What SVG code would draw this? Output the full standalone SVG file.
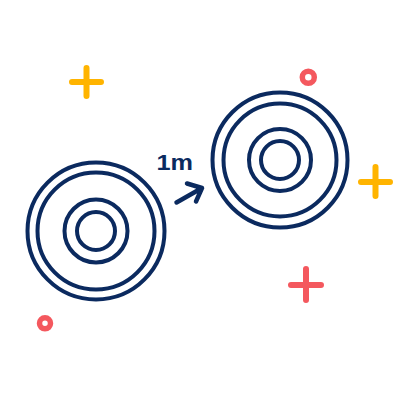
<svg xmlns="http://www.w3.org/2000/svg" width="400" height="400" viewBox="0 0 400 400">
<style>
.ring{fill:none;stroke:#0b2a5f;stroke-width:4}
.plusY{stroke:#ffb400;stroke-width:6;stroke-linecap:round;fill:none}
.plusR{stroke:#f4585e;stroke-width:6;stroke-linecap:round;fill:none}
.dotR{fill:none;stroke:#f4585e;stroke-width:5.5}
.lbl{font-family:"Liberation Sans",Arial,sans-serif;font-weight:bold;font-size:21.5px;fill:#0b2a5f}
.arrow{fill:none;stroke:#0b2a5f;stroke-width:4.5;stroke-linecap:round;stroke-linejoin:round}
</style>
<rect width="400" height="400" fill="#fff"/>
<g id="disc-left">
<circle class="ring" cx="96" cy="231" r="68.5"/>
<circle class="ring" cx="96" cy="231" r="58.5"/>
<circle class="ring" cx="96" cy="231" r="31.5"/>
<circle class="ring" cx="96" cy="231" r="19"/>
</g>
<g id="disc-right">
<circle class="ring" cx="280" cy="160" r="67.5"/>
<circle class="ring" cx="280" cy="160" r="56.5"/>
<circle class="ring" cx="280" cy="160" r="31"/>
<circle class="ring" cx="280" cy="160" r="19"/>
</g>
<g id="connectors">
<path class="arrow" d="M176.5,202.5 L202,188 M187,183.5 L202,188 L196,201.5"/>
<text class="lbl" x="156.5" y="169.5" textLength="36.5" lengthAdjust="spacingAndGlyphs">1m</text>
</g>
<g id="decor">
<path class="plusY" d="M72,82 H101 M86.5,68 V96"/>
<path class="plusY" d="M361,182 H390 M375.5,167 V196"/>
<path class="plusR" d="M291,285 H321 M306,269 V300"/>
<circle class="dotR" cx="308.3" cy="77.3" r="6"/>
<circle class="dotR" cx="45" cy="323.3" r="5.5"/>
</g>
</svg>
